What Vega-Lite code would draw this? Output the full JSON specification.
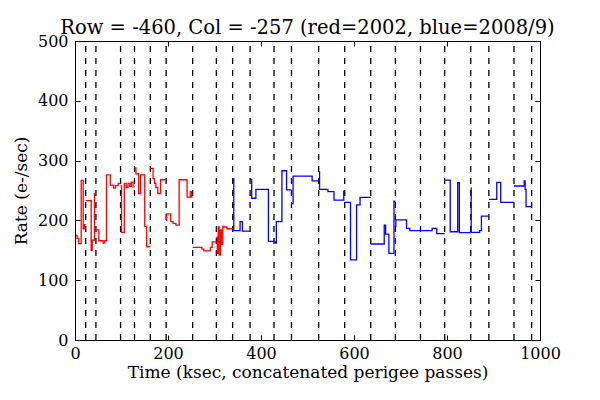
{
  "$schema": "https://vega.github.io/schema/vega-lite/v6.json",
  "width": 465,
  "height": 299,
  "autosize": {"type": "none"},
  "padding": {"left": 75, "top": 41, "right": 60, "bottom": 60},
  "background": "white",
  "config": {
    "view": {"stroke": "black", "strokeWidth": 1},
    "font": "DejaVu Serif",
    "axis": {
      "grid": false,
      "domainColor": "black",
      "tickColor": "black",
      "tickSize": -5,
      "labelFont": "DejaVu Serif",
      "labelFontSize": 16,
      "labelColor": "black",
      "labelFlush": false,
      "labelOverlap": false,
      "format": "d",
      "titleFont": "DejaVu Serif",
      "titleFontSize": 17,
      "titleFontWeight": "normal",
      "titleColor": "black"
    }
  },
  "title": {
    "text": "Row = -460, Col = -257 (red=2002, blue=2008/9)",
    "font": "DejaVu Serif",
    "fontSize": 19.5,
    "fontWeight": "normal",
    "color": "black",
    "anchor": "middle",
    "offset": -5
  },
  "datasets": {
    "passes": [
      {"t": 23}, {"t": 45}, {"t": 98}, {"t": 128}, {"t": 162}, {"t": 196},
      {"t": 253}, {"t": 304}, {"t": 339}, {"t": 376.5}, {"t": 428}, {"t": 465.5},
      {"t": 524}, {"t": 580}, {"t": 636}, {"t": 689}, {"t": 743}, {"t": 795},
      {"t": 851}, {"t": 890}, {"t": 944}, {"t": 982}
    ],
    "counts": [
      {"t": 2, "rate": 175, "pass": 1, "yr": "2002"},
      {"t": 4.5, "rate": 170, "pass": 1, "yr": "2002"},
      {"t": 8, "rate": 161, "pass": 1, "yr": "2002"},
      {"t": 13.3, "rate": 267, "pass": 1, "yr": "2002"},
      {"t": 17.6, "rate": 186, "pass": 1, "yr": "2002"},
      {"t": 20.5, "rate": 193, "pass": 1, "yr": "2002"},
      {"t": 23, "rate": 193, "pass": 1, "yr": "2002"},

      {"t": 23, "rate": 233, "pass": 2, "yr": "2002"},
      {"t": 34.8, "rate": 150, "pass": 2, "yr": "2002"},
      {"t": 37, "rate": 167, "pass": 2, "yr": "2002"},
      {"t": 42, "rate": 245, "pass": 2, "yr": "2002"},
      {"t": 45, "rate": 245, "pass": 2, "yr": "2002"},

      {"t": 45, "rate": 184, "pass": 3, "yr": "2002"},
      {"t": 51.3, "rate": 166, "pass": 3, "yr": "2002"},
      {"t": 60.5, "rate": 162, "pass": 3, "yr": "2002"},
      {"t": 64, "rate": 166, "pass": 3, "yr": "2002"},
      {"t": 67.7, "rate": 276, "pass": 3, "yr": "2002"},
      {"t": 76, "rate": 259, "pass": 3, "yr": "2002"},
      {"t": 83, "rate": 254, "pass": 3, "yr": "2002"},
      {"t": 87, "rate": 258, "pass": 3, "yr": "2002"},
      {"t": 93, "rate": 262, "pass": 3, "yr": "2002"},
      {"t": 98, "rate": 262, "pass": 3, "yr": "2002"},

      {"t": 98, "rate": 258, "pass": 4, "yr": "2002"},
      {"t": 100, "rate": 180, "pass": 4, "yr": "2002"},
      {"t": 106, "rate": 262, "pass": 4, "yr": "2002"},
      {"t": 110, "rate": 255, "pass": 4, "yr": "2002"},
      {"t": 114, "rate": 262, "pass": 4, "yr": "2002"},
      {"t": 118, "rate": 257, "pass": 4, "yr": "2002"},
      {"t": 121, "rate": 264, "pass": 4, "yr": "2002"},
      {"t": 125, "rate": 256, "pass": 4, "yr": "2002"},
      {"t": 128, "rate": 256, "pass": 4, "yr": "2002"},

      {"t": 128, "rate": 288, "pass": 5, "yr": "2002"},
      {"t": 131, "rate": 278, "pass": 5, "yr": "2002"},
      {"t": 137, "rate": 245, "pass": 5, "yr": "2002"},
      {"t": 141, "rate": 276, "pass": 5, "yr": "2002"},
      {"t": 150, "rate": 190, "pass": 5, "yr": "2002"},
      {"t": 154, "rate": 156, "pass": 5, "yr": "2002"},
      {"t": 162, "rate": 156, "pass": 5, "yr": "2002"},

      {"t": 162, "rate": 287, "pass": 6, "yr": "2002"},
      {"t": 168, "rate": 270, "pass": 6, "yr": "2002"},
      {"t": 171, "rate": 262, "pass": 6, "yr": "2002"},
      {"t": 174, "rate": 255, "pass": 6, "yr": "2002"},
      {"t": 178, "rate": 245, "pass": 6, "yr": "2002"},
      {"t": 184, "rate": 268, "pass": 6, "yr": "2002"},
      {"t": 196, "rate": 268, "pass": 6, "yr": "2002"},

      {"t": 196, "rate": 200, "pass": 7, "yr": "2002"},
      {"t": 197, "rate": 211, "pass": 7, "yr": "2002"},
      {"t": 206, "rate": 198, "pass": 7, "yr": "2002"},
      {"t": 211, "rate": 195, "pass": 7, "yr": "2002"},
      {"t": 217, "rate": 192, "pass": 7, "yr": "2002"},
      {"t": 224, "rate": 268, "pass": 7, "yr": "2002"},
      {"t": 241, "rate": 239, "pass": 7, "yr": "2002"},
      {"t": 248, "rate": 248, "pass": 7, "yr": "2002"},
      {"t": 251, "rate": 239, "pass": 7, "yr": "2002"},
      {"t": 253, "rate": 239, "pass": 7, "yr": "2002"},

      {"t": 253, "rate": 155, "pass": 8, "yr": "2002"},
      {"t": 273, "rate": 152, "pass": 8, "yr": "2002"},
      {"t": 277, "rate": 149, "pass": 8, "yr": "2002"},
      {"t": 291, "rate": 155, "pass": 8, "yr": "2002"},
      {"t": 295, "rate": 164, "pass": 8, "yr": "2002"},
      {"t": 304, "rate": 164, "pass": 8, "yr": "2002"},

      {"t": 304, "rate": 172, "pass": 9, "yr": "2002"},
      {"t": 306, "rate": 145, "pass": 9, "yr": "2002"},
      {"t": 308, "rate": 189, "pass": 9, "yr": "2002"},
      {"t": 310, "rate": 142, "pass": 9, "yr": "2002"},
      {"t": 313, "rate": 184, "pass": 9, "yr": "2002"},
      {"t": 315, "rate": 160, "pass": 9, "yr": "2002"},
      {"t": 318, "rate": 190, "pass": 9, "yr": "2002"},
      {"t": 320, "rate": 189, "pass": 9, "yr": "2002"},
      {"t": 327, "rate": 186, "pass": 9, "yr": "2002"},
      {"t": 339, "rate": 186, "pass": 9, "yr": "2002"},

      {"t": 339.5, "rate": 270, "pass": 10, "yr": "2008/9"},
      {"t": 341.5, "rate": 183, "pass": 10, "yr": "2008/9"},
      {"t": 355, "rate": 198, "pass": 10, "yr": "2008/9"},
      {"t": 360, "rate": 182, "pass": 10, "yr": "2008/9"},
      {"t": 376.5, "rate": 182, "pass": 10, "yr": "2008/9"},

      {"t": 376.5, "rate": 268.6, "pass": 11, "yr": "2008/9"},
      {"t": 380, "rate": 237, "pass": 11, "yr": "2008/9"},
      {"t": 389, "rate": 252, "pass": 11, "yr": "2008/9"},
      {"t": 416, "rate": 165, "pass": 11, "yr": "2008/9"},
      {"t": 428, "rate": 165, "pass": 11, "yr": "2008/9"},

      {"t": 428, "rate": 164, "pass": 12, "yr": "2008/9"},
      {"t": 431, "rate": 162, "pass": 12, "yr": "2008/9"},
      {"t": 433, "rate": 198, "pass": 12, "yr": "2008/9"},
      {"t": 445, "rate": 283, "pass": 12, "yr": "2008/9"},
      {"t": 455, "rate": 251, "pass": 12, "yr": "2008/9"},
      {"t": 465.5, "rate": 251, "pass": 12, "yr": "2008/9"},

      {"t": 465.5, "rate": 228, "pass": 13, "yr": "2008/9"},
      {"t": 469, "rate": 274, "pass": 13, "yr": "2008/9"},
      {"t": 510, "rate": 266, "pass": 13, "yr": "2008/9"},
      {"t": 524, "rate": 266, "pass": 13, "yr": "2008/9"},

      {"t": 524, "rate": 281, "pass": 14, "yr": "2008/9"},
      {"t": 526, "rate": 252, "pass": 14, "yr": "2008/9"},
      {"t": 544, "rate": 248, "pass": 14, "yr": "2008/9"},
      {"t": 557, "rate": 234, "pass": 14, "yr": "2008/9"},
      {"t": 578, "rate": 249, "pass": 14, "yr": "2008/9"},
      {"t": 580, "rate": 249, "pass": 14, "yr": "2008/9"},

      {"t": 580, "rate": 230, "pass": 15, "yr": "2008/9"},
      {"t": 592.5, "rate": 134, "pass": 15, "yr": "2008/9"},
      {"t": 605.5, "rate": 226, "pass": 15, "yr": "2008/9"},
      {"t": 613, "rate": 238.5, "pass": 15, "yr": "2008/9"},
      {"t": 636, "rate": 238.5, "pass": 15, "yr": "2008/9"},

      {"t": 636, "rate": 160.5, "pass": 16, "yr": "2008/9"},
      {"t": 665, "rate": 192, "pass": 16, "yr": "2008/9"},
      {"t": 668, "rate": 177, "pass": 16, "yr": "2008/9"},
      {"t": 675, "rate": 145, "pass": 16, "yr": "2008/9"},
      {"t": 686, "rate": 232, "pass": 16, "yr": "2008/9"},
      {"t": 689, "rate": 232, "pass": 16, "yr": "2008/9"},

      {"t": 689, "rate": 190, "pass": 17, "yr": "2008/9"},
      {"t": 690, "rate": 201, "pass": 17, "yr": "2008/9"},
      {"t": 713, "rate": 186.5, "pass": 17, "yr": "2008/9"},
      {"t": 720, "rate": 183, "pass": 17, "yr": "2008/9"},
      {"t": 743, "rate": 183, "pass": 17, "yr": "2008/9"},

      {"t": 743, "rate": 183, "pass": 18, "yr": "2008/9"},
      {"t": 768, "rate": 186.5, "pass": 18, "yr": "2008/9"},
      {"t": 778, "rate": 178, "pass": 18, "yr": "2008/9"},
      {"t": 795, "rate": 178, "pass": 18, "yr": "2008/9"},

      {"t": 795, "rate": 267.5, "pass": 19, "yr": "2008/9"},
      {"t": 807, "rate": 181, "pass": 19, "yr": "2008/9"},
      {"t": 823, "rate": 263, "pass": 19, "yr": "2008/9"},
      {"t": 826.5, "rate": 179.5, "pass": 19, "yr": "2008/9"},
      {"t": 851, "rate": 179.5, "pass": 19, "yr": "2008/9"},

      {"t": 851, "rate": 254, "pass": 20, "yr": "2008/9"},
      {"t": 852, "rate": 180, "pass": 20, "yr": "2008/9"},
      {"t": 870, "rate": 183, "pass": 20, "yr": "2008/9"},
      {"t": 874, "rate": 207, "pass": 20, "yr": "2008/9"},
      {"t": 890, "rate": 207, "pass": 20, "yr": "2008/9"},

      {"t": 890, "rate": 235, "pass": 21, "yr": "2008/9"},
      {"t": 907, "rate": 263.5, "pass": 21, "yr": "2008/9"},
      {"t": 915.5, "rate": 230, "pass": 21, "yr": "2008/9"},
      {"t": 944, "rate": 230, "pass": 21, "yr": "2008/9"},

      {"t": 944, "rate": 257.5, "pass": 22, "yr": "2008/9"},
      {"t": 966, "rate": 266, "pass": 22, "yr": "2008/9"},
      {"t": 968, "rate": 252, "pass": 22, "yr": "2008/9"},
      {"t": 970, "rate": 223, "pass": 22, "yr": "2008/9"},
      {"t": 982, "rate": 223, "pass": 22, "yr": "2008/9"}
    ]
  },
  "layer": [
    {
      "data": {"name": "passes"},
      "mark": {"type": "rule", "color": "black", "strokeWidth": 1.3, "strokeDash": [6, 6], "strokeDashOffset": 7},
      "encoding": {
        "x": {"field": "t", "type": "quantitative", "scale": {"domain": [0, 1000], "nice": false}, "axis": null}
      }
    },
    {
      "data": {"name": "counts"},
      "mark": {"type": "line", "interpolate": "step-after", "strokeWidth": 1.3},
      "encoding": {
        "x": {
          "field": "t", "type": "quantitative",
          "scale": {"domain": [0, 1000], "nice": false},
          "axis": {"orient": "bottom", "values": [0, 200, 400, 600, 800, 1000], "labelPadding": 10, "title": "Time (ksec, concatenated perigee passes)", "titlePadding": 3}
        },
        "y": {
          "field": "rate", "type": "quantitative",
          "scale": {"domain": [0, 500], "nice": false},
          "axis": {"orient": "left", "values": [0, 100, 200, 300, 400, 500], "labelPadding": 12, "title": "Rate (e-/sec)", "titlePadding": 7}
        },
        "color": {"field": "yr", "type": "nominal", "scale": {"domain": ["2002", "2008/9"], "range": ["#ff0000", "#0000ff"]}, "legend": null},
        "detail": {"field": "pass", "type": "nominal"}
      }
    },
    {
      "data": {"name": "counts"},
      "mark": {"type": "point", "opacity": 0},
      "encoding": {
        "x": {"field": "t", "type": "quantitative", "axis": {"orient": "top", "values": [0, 200, 400, 600, 800, 1000], "labels": false, "title": null, "domain": false}},
        "y": {"field": "rate", "type": "quantitative", "axis": {"orient": "right", "values": [0, 100, 200, 300, 400, 500], "labels": false, "title": null, "domain": false}}
      }
    }
  ],
  "resolve": {"axis": {"x": "independent", "y": "independent"}}
}
